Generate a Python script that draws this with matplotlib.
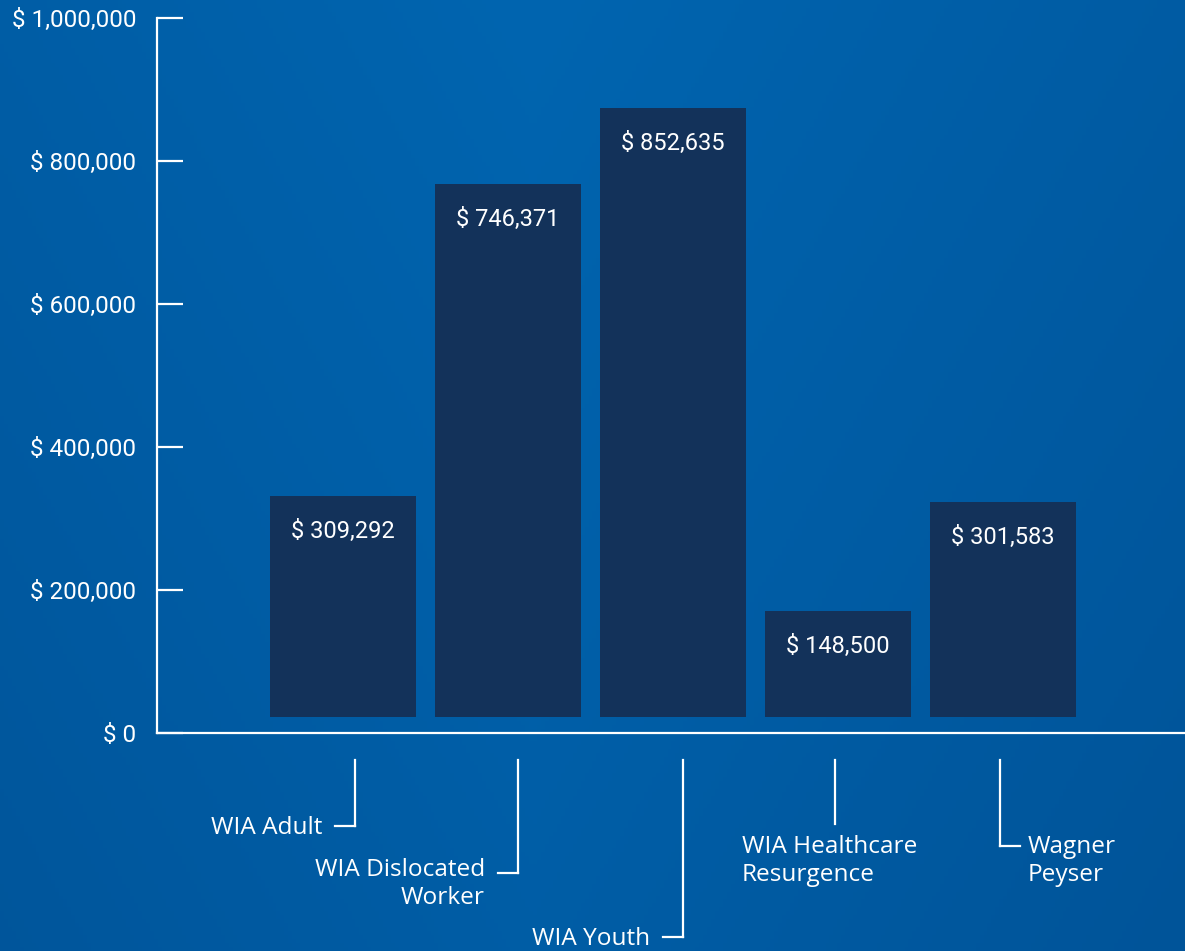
import numpy as np
import matplotlib
matplotlib.use('Agg')
import matplotlib.pyplot as plt

# data
programs = ['WIA Adult', 'WIA Dislocated\nWorker', 'WIA Youth',
            'WIA Healthcare\nResurgence', 'Wagner\nPeyser']
funding = [309292, 746371, 852635, 148500, 301583]
yticks = [0, 200000, 400000, 600000, 800000, 1000000]
ytick_labels = ['$ 0', '$ 200,000', '$ 400,000', '$ 600,000', '$ 800,000', '$ 1,000,000']

num_font = ['Roboto', 'DejaVu Sans']
cat_font = ['Open Sans', 'DejaVu Sans']
bar_color = '#13325a'

fig = plt.figure(figsize=(11.85, 9.51), dpi=100)

# blue gradient background
bg = fig.add_axes([0, 0, 1, 1], zorder=0)
gx, gy = np.meshgrid(np.linspace(0, 1, 300), np.linspace(0, 1, 240))
light = np.array([0, 101, 176]) / 255
dark = np.array([0, 84, 153]) / 255
t = np.clip(0.55 * np.abs(gx - 0.45) / 0.55 + 0.45 * gy, 0, 1)
img = light[None, None, :] * (1 - t[..., None]) + dark[None, None, :] * t[..., None]
bg.imshow(img, aspect='auto', extent=[0, 1, 0, 1])
bg.axis('off')

ax = fig.add_axes([157 / 1185, 1 - 733 / 951, 1 - 157 / 1185, (733 - 18) / 951], zorder=1)
ax.patch.set_alpha(0)

x = np.arange(len(programs))
base = 22000  # bars float a little above the axis line
bars = ax.bar(x, funding, width=146 / 165, bottom=base, color=bar_color, zorder=2)

for xi, v in zip(x, funding):
    ax.text(xi, base + v - 34000, '$ {:,}'.format(v), ha='center', va='top',
            color='white', fontsize=17, family=num_font, zorder=3)

ax.set_xlim(-(343 - 157) / 165, (1185 - 343) / 165)
ax.set_ylim(0, 1000000)
ax.set_yticks(yticks)
ax.set_yticklabels(ytick_labels, family=num_font, fontsize=17.5, color='white')
ax.tick_params(axis='y', direction='in', length=18.5, width=1.6, color='white', pad=15)
ax.set_xticks([])
for s in ['top', 'right']:
    ax.spines[s].set_visible(False)
for s in ['left', 'bottom']:
    ax.spines[s].set_color('white')
    ax.spines[s].set_linewidth(1.6)

# leader lines and category labels below the axis
px = 1000000 / 715  # data units per pixel (vertical)
dx = 1 / 165        # data units per pixel (horizontal)
line_off = [12, 10, 10, -3, -3]
line_end = [826, 873, 937, 824, 846]
label_top = [816, 858, 927, 835, 835]
hook = [-1, -1, -1, 0, 1]
for i, lab in enumerate(programs):
    lx = x[i] + line_off[i] * dx
    y0 = -(760 - 733) * px
    y1 = -(line_end[i] - 733) * px
    ty = -(label_top[i] - 733) * px
    ax.plot([lx, lx], [y0, y1], color='white', lw=1.6, clip_on=False)
    if hook[i] != 0:
        ax.plot([lx, lx + hook[i] * 20 * dx], [y1, y1], color='white', lw=1.6, clip_on=False)
    if hook[i] < 0:
        ax.text(lx - 33 * dx, ty, lab, ha='right', va='top', color='white',
                fontsize=17.6, family=cat_font, linespacing=1.21)
    elif hook[i] > 0:
        ax.text(lx + 28 * dx, ty, lab, ha='left', va='top', color='white',
                fontsize=17.6, family=cat_font, linespacing=1.21)
    else:
        ax.text(lx - 93 * dx, ty, lab, ha='left', va='top', color='white',
                fontsize=17.6, family=cat_font, linespacing=1.21)

fig.savefig('out.png', dpi=100)
